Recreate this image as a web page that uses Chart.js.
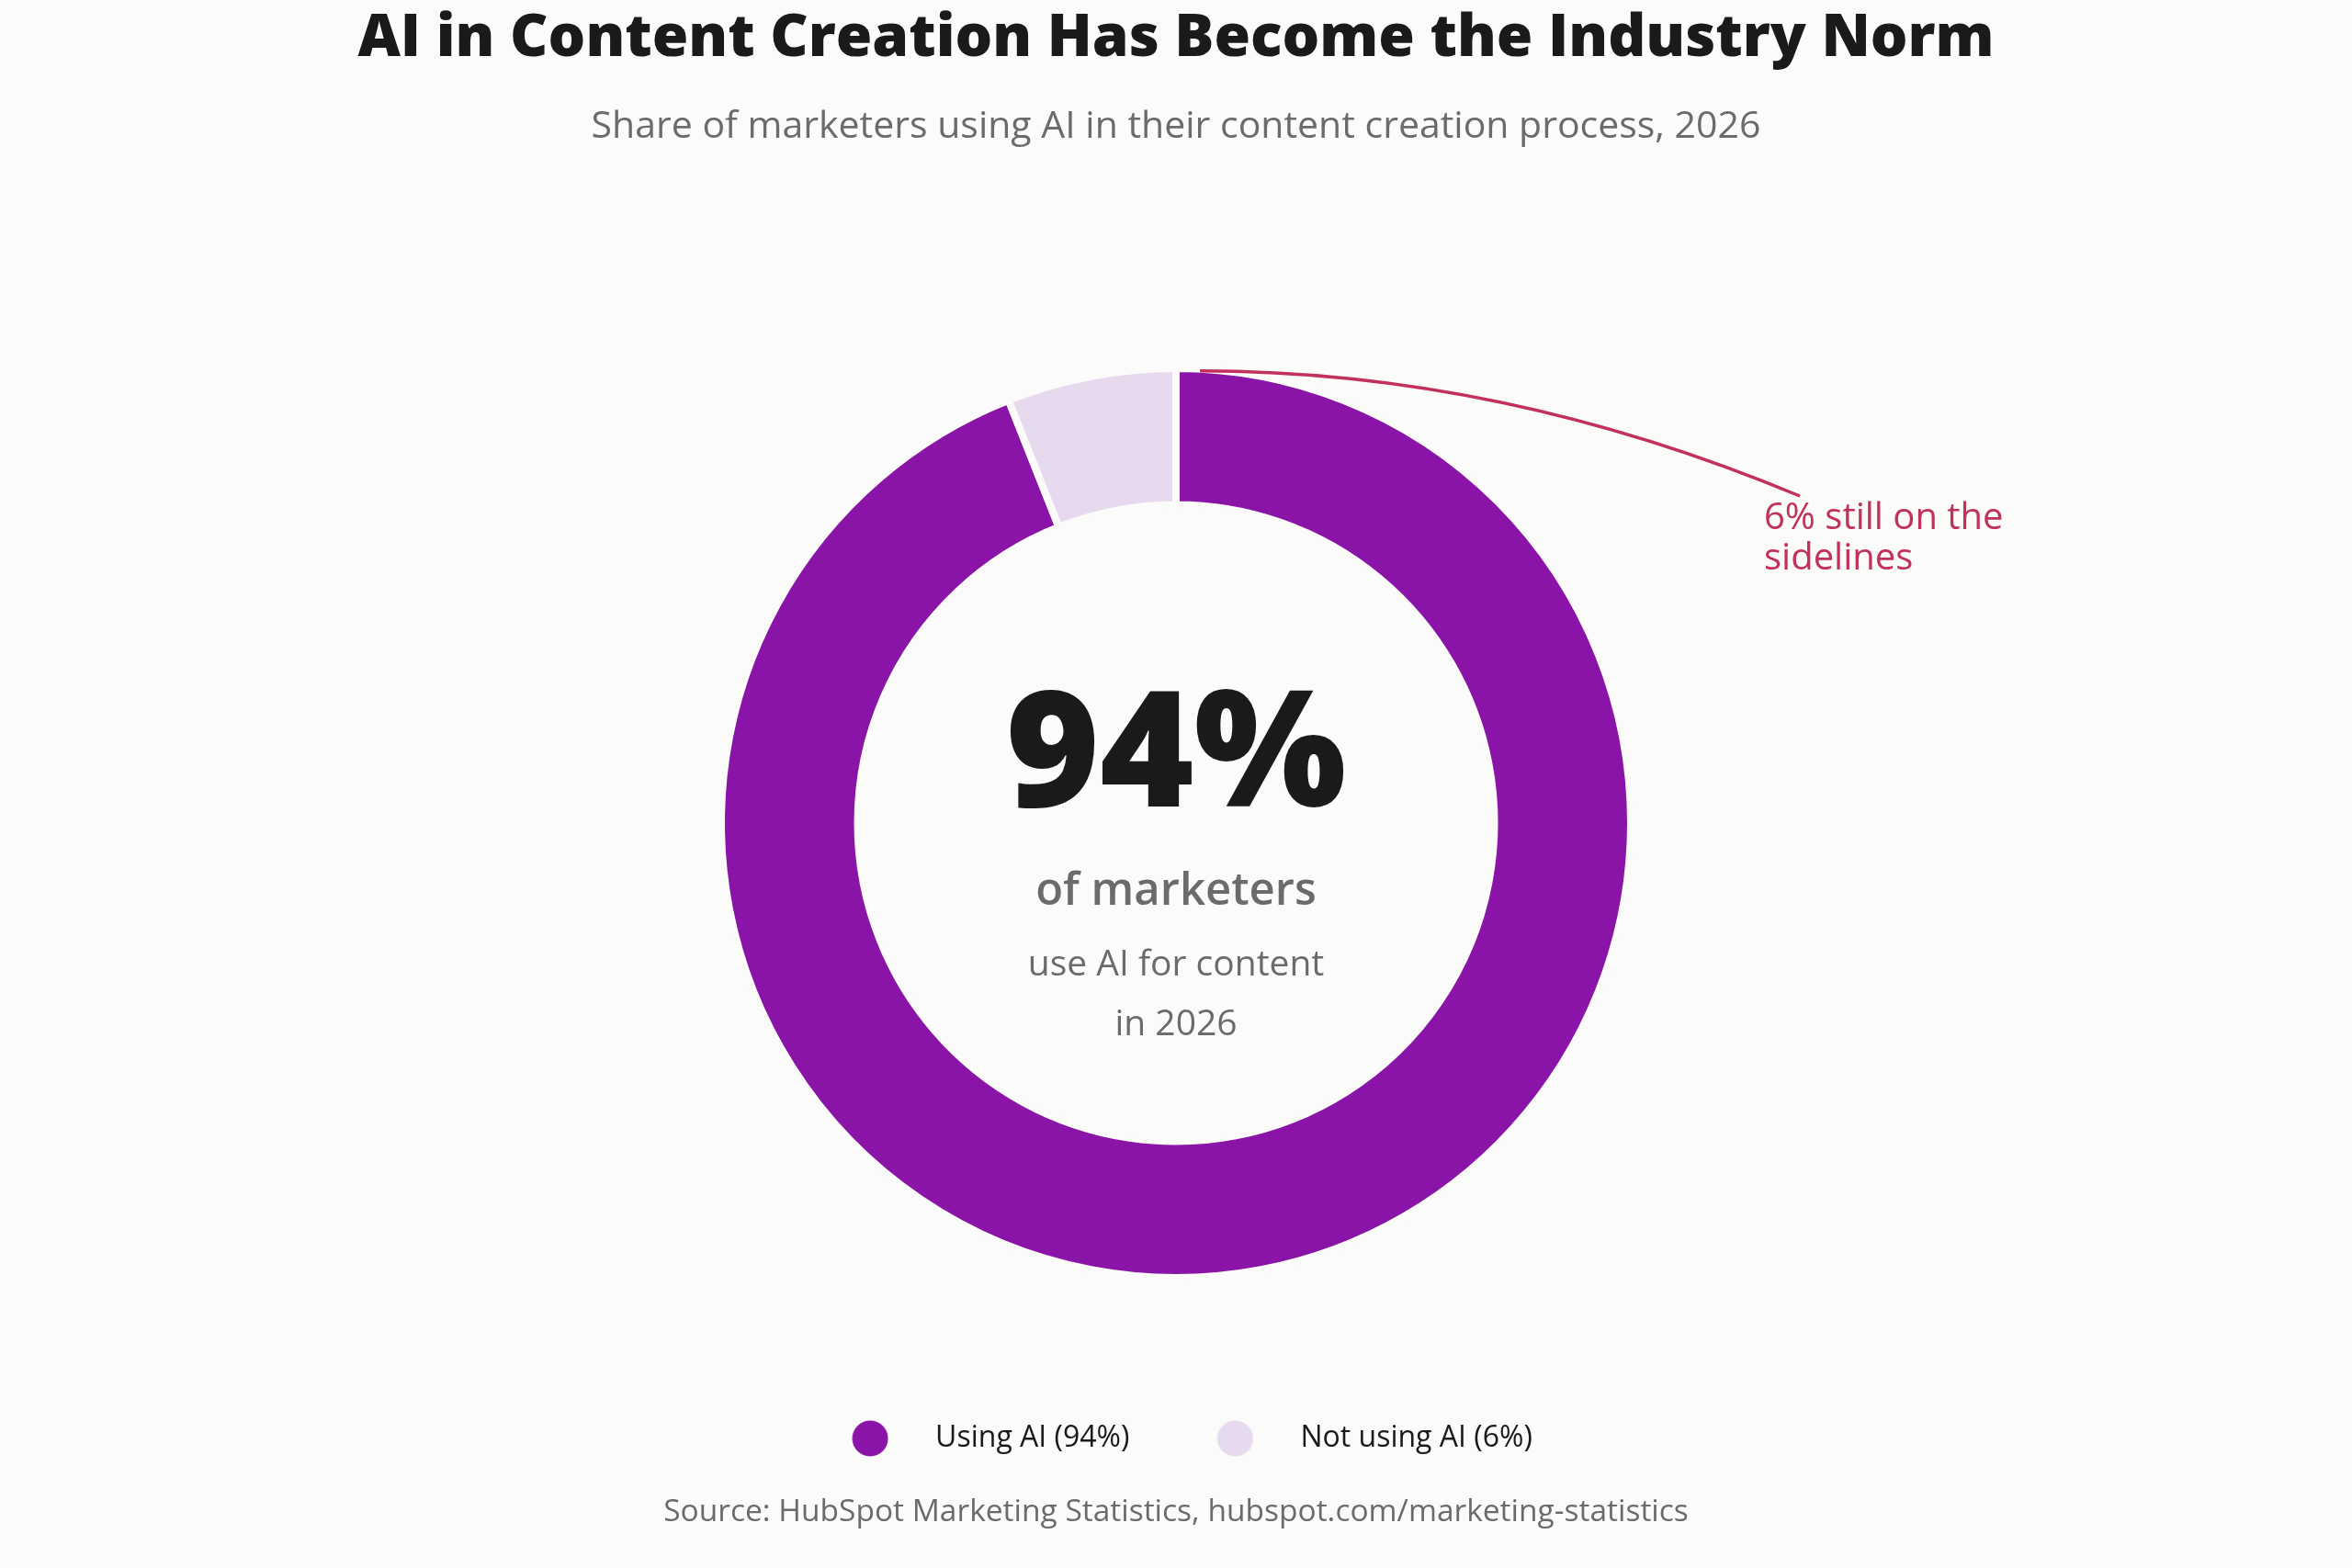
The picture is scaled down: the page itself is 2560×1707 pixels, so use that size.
<!DOCTYPE html>
<html>
<head>
<meta charset="utf-8">
<title>AI in Content Creation</title>
<script src="https://cdn.jsdelivr.net/npm/chart.js@4.4.1/dist/chart.umd.min.js"></script>
<style>
    html, body { margin: 0; padding: 0; background: #fbfbf9; }
    .wrap { width: 100vw; height: 100vh; }
</style>
</head>
<body>
<div class="wrap"><canvas id="aiChart"></canvas></div>
<script>
// ========== DATA ==========
const labels = ["Using AI (94%)", "Not using AI (6%)"];
const shares = [94, 6];
const colors = ["#8b14a8", "#e8daee"];

const titleText = "AI in Content Creation Has Become the Industry Norm";
const subtitleText = "Share of marketers using AI in their content creation process, 2026";
const centerLines = ["of marketers", "use AI for content", "in 2026"];
const calloutLines = ["6% still on the", "sidelines"];
const sourceText = "Source: HubSpot Marketing Statistics, hubspot.com/marketing-statistics";

const FONT = '"Open Sans", "DejaVu Sans", sans-serif';
const BG = "#fbfbf9";
const ACCENT = "#c2305e";
const GREY = "#6b6b6b";

// little round swatch used as the legend marker
function dot(color) {
    const c = document.createElement("canvas");
    c.width = 40;
    c.height = 40;
    const g = c.getContext("2d");
    g.fillStyle = color;
    g.beginPath();
    g.arc(20, 20, 19.5, 0, Math.PI * 2);
    g.fill();
    return c;
}

// ========== CENTER LABEL ==========
const centerText = {
    id: "centerText",
    afterDraw(chart) {
        const arc = chart.getDatasetMeta(0).data[0];
        if (!arc) return;
        const { ctx } = chart;
        const cx = arc.x, cy = arc.y;
        ctx.save();
        ctx.textAlign = "center";
        ctx.textBaseline = "middle";

        ctx.fillStyle = "#1a1a1a";
        ctx.font = `800 175px ${FONT}`;
        ctx.fillText(shares[0] + "%", cx, cy - 68);

        ctx.fillStyle = GREY;
        ctx.font = `600 49px ${FONT}`;
        ctx.fillText(centerLines[0], cx, cy + 75);

        ctx.font = `400 39px ${FONT}`;
        ctx.fillText(centerLines[1], cx, cy + 155);
        ctx.fillText(centerLines[2], cx, cy + 220);
        ctx.restore();
    }
};

// ========== CALLOUT ==========
const callout = {
    id: "callout",
    afterDraw(chart) {
        const arc = chart.getDatasetMeta(0).data[0];
        if (!arc) return;
        const { ctx } = chart;
        const cx = arc.x, cy = arc.y;
        const a = arc.startAngle + 0.053;
        const r = arc.outerRadius - 2;
        const x0 = cx + r * Math.cos(a);
        const y0 = cy + r * Math.sin(a);

        ctx.save();
        ctx.strokeStyle = ACCENT;
        ctx.lineWidth = 3.5;
        ctx.beginPath();
        ctx.moveTo(x0, y0);
        ctx.quadraticCurveTo(cx + 353, y0, cx + 679, cy - 356);
        ctx.stroke();

        ctx.fillStyle = ACCENT;
        ctx.font = `500 40px ${FONT}`;
        ctx.textAlign = "left";
        ctx.textBaseline = "middle";
        calloutLines.forEach((line, i) => {
            ctx.fillText(line, cx + 640, cy - 331 + i * 44);
        });
        ctx.restore();
    }
};

// ========== SOURCE NOTE ==========
const sourceNote = {
    id: "sourceNote",
    afterDraw(chart) {
        const { ctx, width } = chart;
        ctx.save();
        ctx.fillStyle = GREY;
        ctx.font = `400 33.5px ${FONT}`;
        ctx.textAlign = "center";
        ctx.textBaseline = "middle";
        ctx.fillText(sourceText, width / 2, 1646);
        ctx.restore();
    }
};

// ========== DRAW CHART ==========
new Chart(document.getElementById("aiChart"), {
    type: "doughnut",
    data: {
        labels: labels,
        datasets: [{
            data: shares,
            backgroundColor: colors,
            borderColor: BG,
            borderWidth: 8,
            hoverOffset: 0
        }]
    },
    options: {
        responsive: true,
        maintainAspectRatio: false,
        animation: false,
        radius: 495,
        cutout: "70%",
        layout: { padding: { top: 0, bottom: 115 } },
        plugins: {
            title: {
                display: true,
                text: titleText,
                color: "#1a1a1a",
                font: { family: FONT, size: 64, weight: "800" },
                padding: { top: 4, bottom: 0 }
            },
            subtitle: {
                display: true,
                text: subtitleText,
                color: GREY,
                font: { family: FONT, size: 41, weight: "400" },
                padding: { top: 33, bottom: 139 }
            },
            legend: {
                position: "bottom",
                labels: {
                    usePointStyle: true,
                    pointStyleWidth: 110,
                    boxHeight: 28,
                    padding: 60,
                    color: "#1a1a1a",
                    font: { family: FONT, size: 32 },
                    generateLabels: () => labels.map((text, i) => ({
                        text: text,
                        fillStyle: colors[i],
                        strokeStyle: colors[i],
                        lineWidth: 0,
                        fontColor: "#1a1a1a",
                        pointStyle: dot(colors[i]),
                        hidden: false,
                        index: i
                    }))
                }
            },
            tooltip: { enabled: false }
        }
    },
    plugins: [centerText, callout, sourceNote]
});
</script>
</body>
</html>
